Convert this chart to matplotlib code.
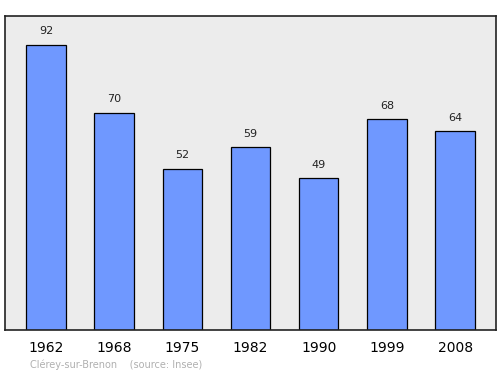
import matplotlib.pyplot as plt

years = ['1962', '1968', '1975', '1982', '1990', '1999', '2008']
population = [92, 70, 52, 59, 49, 68, 64]
commune = 'Clérey-sur-Brenon'
source = '(source: Insee)'

fig = plt.figure(figsize=(5, 3.74), dpi=100)
ax = fig.add_axes([0.01, 0.1176, 0.982, 0.8396])
ax.set_facecolor('#ececec')

x = range(len(years))
ax.bar(x, population, width=0.58, color='#6f98ff', edgecolor='black', linewidth=0.9)
for i, v in zip(x, population):
    ax.annotate(str(v), (i, v), xytext=(0, 6), textcoords='offset points',
                ha='center', va='bottom', fontsize=8, color='#222222')

ax.set_xlim(-0.6, len(years) - 0.4)
ax.set_ylim(0, max(population) * 1.1)
ax.set_yticks([])
ax.set_xticks(list(x))
ax.set_xticklabels(years, fontsize=10)
ax.tick_params(axis='x', length=0, pad=8)
for s in ax.spines.values():
    s.set_linewidth(1.2)
    s.set_color('#222222')

fig.text(0.06, 0.012, commune + '    ' + source, fontsize=7, color='#b0b0b0',
         ha='left', va='bottom')

fig.savefig('out.png', dpi=100)
